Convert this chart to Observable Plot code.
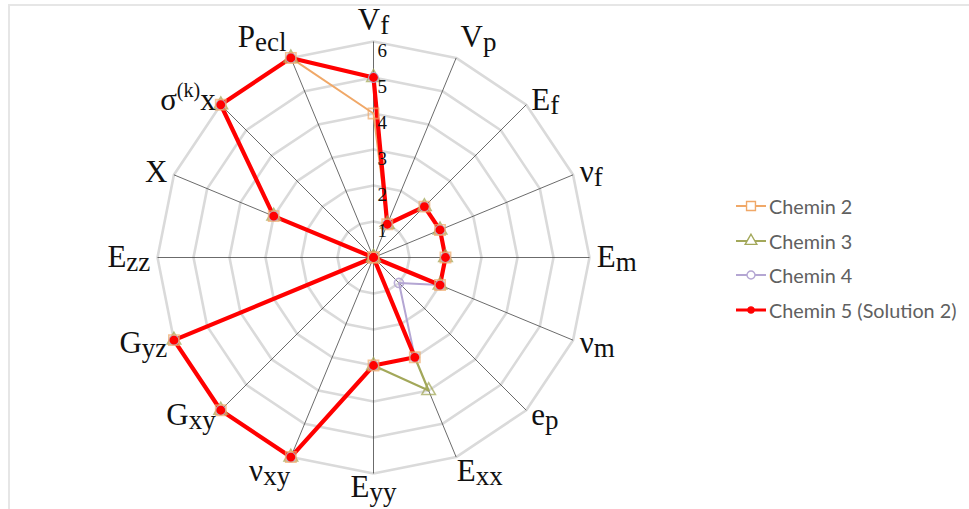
<!DOCTYPE html>
<html><head><meta charset="utf-8">
<script src="https://cdn.jsdelivr.net/npm/d3@7"></script>
<script src="https://cdn.jsdelivr.net/npm/@observablehq/plot@0.6"></script>
<style>
body{margin:0;background:#fff;}
#wrap{position:relative;width:969px;height:509px;overflow:hidden;background:#fff;}
#frame{position:absolute;left:8px;top:4px;right:0;bottom:0;border-top:2px solid #e6e6e6;border-left:2px solid #e6e6e6;pointer-events:none;}
#chart{position:absolute;left:0;top:0;}
#legend{position:absolute;left:736px;top:189px;font-family:Lato, "Open Sans", sans-serif;font-size:19.8px;color:#606060;}
.item{display:flex;align-items:center;height:34.6px;white-space:nowrap;}
.item svg{margin-right:3px;overflow:visible;}
</style></head><body>
<div id="wrap"><div id="frame"></div><div id="chart"></div><div id="legend"></div></div>
<script>
// ---- data ----
const axes = ["V_f","V_p","E_f","ν_f","E_m","ν_m","e_p","E_xx","E_yy","ν_xy","G_xy","G_yz","E_zz","X","σ^(k)x","P_ecl"];
const ticks = [1, 2, 3, 4, 5, 6];
const seriesNames = ["Chemin 2", "Chemin 3", "Chemin 4", "Chemin 5 (Solution 2)"];
const chemin2 = [4, 1, 2, 2, 2, 2, 0, 3, 3, 6, 6, 6, 0, 3, 6, 6];
const chemin3 = [5, 1, 2, 2, 2, 2, 0, 4, 3, 6, 6, 6, 0, 3, 6, 6];
const chemin4 = [5, 1, 2, 2, 2, 2, 1, 3, 3, 6, 6, 6, 0, 3, 6, 6];
const chemin5 = [5, 1, 2, 2, 2, 2, 0, 3, 3, 6, 6, 6, 0, 3, 6, 6];

// ---- layout ----
const W = 969, H = 509, CX = 373, CY = 257, U = 36;
const n = axes.length;
const ang = i => i * 2 * Math.PI / n;
const px = (v, i) => v * Math.sin(ang(i));
const py = (v, i) => v * Math.cos(ang(i));

const series = [
  {name: seriesNames[0], values: chemin2, color: "#f0a868", symbol: "square", r: 5.8, sw: 2, fill: "none", mo: 0.7},
  {name: seriesNames[1], values: chemin3, color: "#a3a85a", symbol: "triangle", r: 5.0, sw: 2.2, fill: "none", mo: 0.75},
  {name: seriesNames[2], values: chemin4, color: "#b4a6d3", symbol: "circle", r: 4.6, sw: 2, fill: "none", mo: 0.9},
  {name: seriesNames[3], values: chemin5, color: "#ff0000", symbol: "circle", r: 3.6, sw: 4.2, fill: "#ff0000", mo: 1}
];

const ringRows = ticks.flatMap(t => d3.range(n + 1).map(k => ({t, x: px(t, k % n), y: py(t, k % n)})));
const spokes = d3.range(n);
const tmax = ticks[ticks.length - 1];

const marks = [
  Plot.line(ringRows, {x: "x", y: "y", z: "t", stroke: "#dadada", strokeWidth: 2.6}),
  Plot.link(spokes, {x1: () => 0, y1: () => 0, x2: i => px(tmax, i), y2: i => py(tmax, i), stroke: "#3a3a3a", strokeWidth: 0.75})
];

for (const s of series) {
  const rows = d3.range(n + 1).map(k => ({x: px(s.values[k % n], k % n), y: py(s.values[k % n], k % n)}));
  marks.push(Plot.line(rows, {x: "x", y: "y", stroke: s.color, strokeWidth: s.sw, strokeLinejoin: "round"}));
}
// marker draw order: triangles, circles, squares, red dots
for (const s of [series[1], series[2], series[0], series[3]]) {
  const pts = d3.range(n).map(i => ({x: px(s.values[i], i), y: py(s.values[i], i)}));
  marks.push(Plot.dot(pts, {x: "x", y: "y", symbol: s.symbol, r: s.r, stroke: s.color, strokeOpacity: s.mo, strokeWidth: 1.6, fill: s.fill}));
}

marks.push(Plot.text(ticks, {x: () => 0, y: d => d, text: d => String(d), dx: 4, dy: 2, textAnchor: "start", lineAnchor: "top", fontSize: 19, fontFamily: "Liberation Serif", fill: "#111"}));

// axis labels grouped by anchor
const labelRows = axes.map((a, i) => {
  const s = Math.sin(ang(i)), c = Math.cos(ang(i));
  const la = Math.abs(c) < 0.75 ? "middle" : c > 0 ? "bottom" : "top";
  const LR = la === "bottom" ? 6.32 : la === "top" ? 6.05 : 6.2;
  return {a, x: px(LR, i), y: py(LR, i),
    ta: Math.abs(s) < 0.3 ? "middle" : s > 0 ? "start" : "end", la};
});
const groups = d3.groups(labelRows, d => d.ta + "|" + d.la);
for (const [key, rows] of groups) {
  const [ta, la] = key.split("|");
  marks.push(Plot.text(rows, {x: "x", y: "y", text: "a", textAnchor: ta, lineAnchor: la, fontSize: 31, fontFamily: "Liberation Serif", fill: "#111"}));
}

const plot = Plot.plot({
  width: W, height: H,
  marginTop: 0, marginRight: 0, marginBottom: 0, marginLeft: 0,
  x: {domain: [-CX / U, (W - CX) / U], range: [0, W], axis: null},
  y: {domain: [-(H - CY) / U, CY / U], range: [H, 0], axis: null},
  style: {background: "transparent", overflow: "visible"},
  marks
});
document.getElementById("chart").appendChild(plot);

// subscripts / superscripts
const ns = "http://www.w3.org/2000/svg";
plot.querySelectorAll("text").forEach(t => {
  const s = t.textContent;
  if (!s.includes("_") && !s.includes("^")) return;
  t.textContent = "";
  const add = (txt, attrs) => { const e = document.createElementNS(ns, "tspan"); e.textContent = txt; for (const k in attrs) e.setAttribute(k, attrs[k]); t.appendChild(e); };
  if (s.includes("^")) {
    const [m, rest] = s.split("^");
    const j = rest.indexOf(")") + 1;
    add(m, {});
    add(rest.slice(0, j), {"font-size": 20, dy: -13});
    add(rest.slice(j), {dy: 13});
  } else {
    const [m, sub] = s.split("_");
    add(m, {});
    add(sub, {"font-size": 27, dy: 4});
  }
});

// legend
const leg = d3.select("#legend");
series.forEach(s => {
  const item = leg.append("div").attr("class", "item");
  const sv = item.append("svg").attr("width", 30).attr("height", 16);
  sv.append("line").attr("x1", 0).attr("x2", 30).attr("y1", 8).attr("y2", 8).attr("stroke", s.color).attr("stroke-width", s.sw > 3 ? 3 : 2);
  const sym = s.symbol === "square" ? d3.symbolSquare : s.symbol === "triangle" ? d3.symbolTriangle : d3.symbolCircle;
  sv.append("path").attr("transform", "translate(15,8)").attr("d", d3.symbol(sym, Math.PI * s.r * s.r * 0.75)())
    .attr("fill", s.fill === "none" ? "#fff" : s.fill).attr("stroke", s.color).attr("stroke-width", 1.4);
  item.append("span").text(s.name);
});
</script>
</body></html>
